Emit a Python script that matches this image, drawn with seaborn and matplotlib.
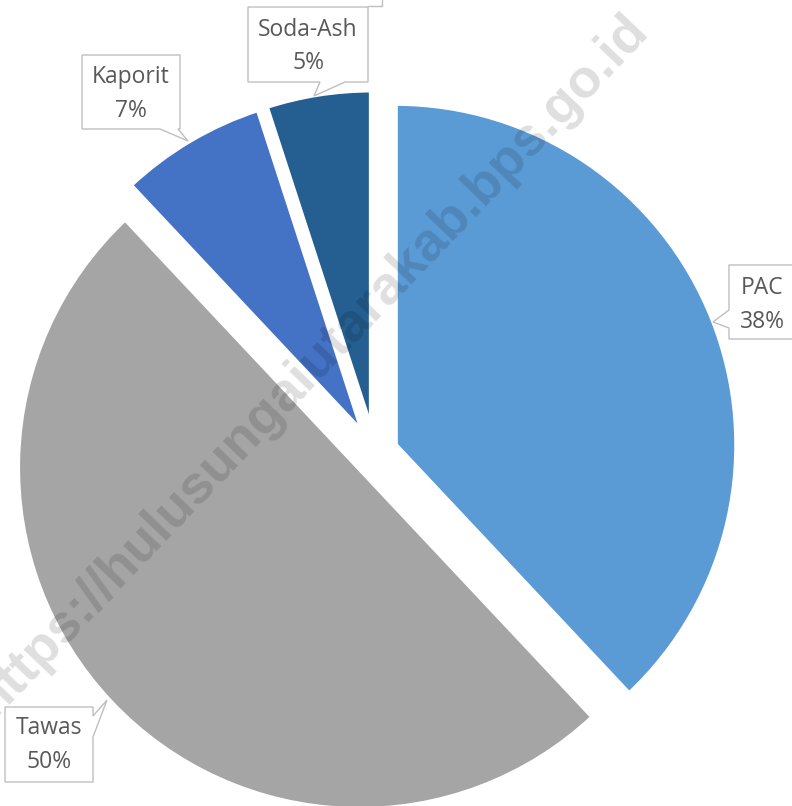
import matplotlib
matplotlib.use("Agg")
import matplotlib.pyplot as plt
import seaborn as sns
from matplotlib.patches import Polygon

# ---- data ----
categories = ["PAC", "Tawas", "Kaporit", "Soda-Ash"]
values = [38, 50, 7, 5]
pct_labels = ["38%", "50%", "7%", "5%"]
colors = ["#5B9BD5", "#A5A5A5", "#4472C4", "#255E91"]
watermark = "https://hulusungaiutarakab.bps.go.id"

sns.set_theme(style="white")
plt.rcParams["font.family"] = ["Open Sans", "DejaVu Sans"]

W, H = 792, 806
fig = plt.figure(figsize=(W / 100, H / 100), dpi=100)
ax = fig.add_axes([0, 0, 1, 1])

# pixel geometry of the pie
CX, CY, R = 375, 453, 342.0


def px(x, y):
    return ((x - CX) / R, (CY - y) / R)


explode = [0.063] * len(values)
ax.pie(values, colors=colors, startangle=90, counterclock=False,
       explode=explode, radius=1.0,
       wedgeprops=dict(edgecolor="white", linewidth=4))

ax.set_xlim((0 - CX) / R, (W - CX) / R)
ax.set_ylim((CY - H) / R, (CY - 0) / R)
ax.set_aspect("auto")
ax.axis("off")

# watermark
wx, wy = px(650, 32)
ax.text(wx, wy, watermark, rotation=46.3, rotation_mode="anchor",
        ha="right", va="baseline", fontsize=39, fontweight="bold",
        family=["Liberation Sans", "DejaVu Sans"],
        color="black", alpha=0.13, zorder=5)

# callouts: box polygon (pixels) with pointer
callouts = {
    "Soda-Ash": [(248, 7), (368, 7), (368, 82), (345, 82), (314, 96), (320, 82), (248, 82)],
    "Kaporit": [(82, 55), (180, 55), (180, 129), (178, 129), (188, 141), (160, 129), (82, 129)],
    "PAC": [(729, 265), (800, 265), (800, 339), (729, 339), (729, 328), (713, 322), (729, 310)],
    "Tawas": [(5, 707), (93, 707), (93, 716), (107, 700), (93, 737), (93, 782), (5, 782)],
}
text_pos = {
    "Soda-Ash": (308, 30, 63),
    "Kaporit": (131, 77, 111),
    "PAC": (762, 288, 322),
    "Tawas": (49, 728, 762),
}

for cat, pct in zip(categories, pct_labels):
    pts = [px(x, y) for x, y in callouts[cat]]
    ax.add_patch(Polygon(pts, closed=True, facecolor="white", edgecolor="#BFBFBF",
                         linewidth=1.0, zorder=6, clip_on=False))
    tx, ty1, ty2 = text_pos[cat]
    ax.text(*px(tx, ty1), cat, ha="center", va="center", fontsize=16.5,
            color="#595959", zorder=7)
    ax.text(*px(tx, ty2), pct, ha="center", va="center", fontsize=16.5,
            color="#595959", zorder=7)

# small leader fragment at top
lx, ly = zip(*[px(368, 6), px(382, 6), px(382, 0)])
ax.plot(lx, ly, color="#BFBFBF", lw=1.0, zorder=6)

fig.savefig("out.png", dpi=100, facecolor="white")
